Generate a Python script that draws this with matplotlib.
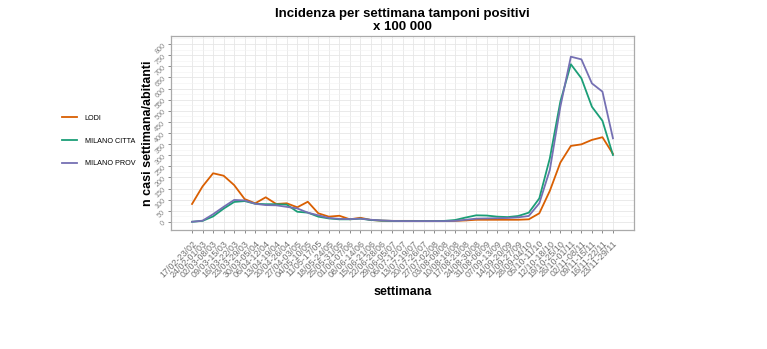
import matplotlib
matplotlib.use("Agg")
import matplotlib.pyplot as plt
import numpy as np

weeks = ["17/02-23/02", "24/02-01/03", "02/03-08/03", "09/03-15/03", "16/03-22/03",
         "23/03-29/03", "30/03-05/04", "06/04-12/04", "13/04-19/04", "20/04-26/04",
         "27/04-03/05", "04/05-10/05", "11/05-17/05", "18/05-24/05", "25/05-31/05",
         "01/06-07/06", "08/06-14/06", "15/06-21/06", "22/06-28/06", "29/06-05/07",
         "06/07-12/07", "13/07-19/07", "20/07-26/07", "27/07-02/08", "03/08-09/08",
         "10/08-16/08", "17/08-23/08", "24/08-30/08", "31/08-06/09", "07/09-13/09",
         "14/09-20/09", "21/09-27/09", "28/09-04/10", "05/10-11/10", "12/10-18/10",
         "19/10-25/10", "26/10-01/11", "02/11-08/11", "09/11-15/11", "16/11-22/11",
         "23/11-29/11"]

lodi = [81, 160, 219, 208, 166, 103, 84, 111, 81, 84,
        66, 91, 39, 24, 28, 12, 19, 9, 6, 5,
        5, 5, 4, 4, 4, 5, 7, 10, 10, 10,
        10, 10, 12, 39, 140, 267, 342, 349, 369, 381,
        306]
milano_citta = [1, 5, 25, 60, 90, 94, 82, 80, 80, 78,
                46, 42, 24, 16, 12, 12, 15, 9, 6, 5,
                4, 4, 4, 4, 5, 9, 20, 30, 29, 24,
                22, 27, 42, 106, 286, 541, 709, 646, 518, 455,
                301]
milano_prov = [1, 6, 35, 68, 99, 97, 82, 76, 75, 68,
               61, 42, 30, 18, 14, 13, 15, 10, 7, 5,
               4, 4, 4, 4, 4, 5, 10, 15, 16, 17,
               18, 21, 27, 84, 234, 518, 743, 731, 623, 586,
               376]

series_names = ["LODI", "MILANO CITTA", "MILANO PROV"]
colors = ["#D95F02", "#1B9E77", "#7570B3"]

plt.rcParams['font.family'] = ['Liberation Sans', 'DejaVu Sans']

fig = plt.figure(figsize=(7.67, 3.49), dpi=100)
ax = fig.add_axes([171/767, 1 - 230/349, (634 - 171)/767, (230 - 36)/349])

x = np.arange(len(weeks))
for name, vals, c in zip(series_names, [lodi, milano_citta, milano_prov], colors):
    ax.plot(x, vals, color=c, lw=1.3, label=name, solid_joinstyle='round')

ax.set_xlim(-2, len(weeks) + 1)
ax.set_ylim(-36, 836)

ax.set_xticks(x)
ax.set_xticklabels(weeks, rotation=45, ha='right', va='top', rotation_mode='anchor',
                   fontsize=6.4, color='#707070')
yt = np.arange(0, 801, 50)
ax.set_yticks(yt)
ax.set_yticklabels([str(v) for v in yt], rotation=45, ha='right', va='center',
                   rotation_mode='anchor', fontsize=5.2, color='#888888')
ax.set_yticks(np.arange(25, 826, 50), minor=True)

ax.grid(True, which='major', color='#E6E6E6', lw=0.6)
ax.grid(True, which='minor', axis='y', color='#F2F2F2', lw=0.4)
ax.tick_params(which='minor', length=0)
ax.tick_params(axis='x', which='major', length=2.5, width=0.6, color='#777777', pad=4)
ax.tick_params(axis='y', which='major', length=2.5, width=0.6, color='#777777', pad=2)
ax.set_axisbelow(True)
for s in ax.spines.values():
    s.set_color('#AAAAAA')
    s.set_linewidth(0.9)

ax.set_title("Incidenza per settimana tamponi positivi\nx 100 000", fontsize=9.5,
             fontweight='bold', linespacing=1.2, pad=4)
ax.set_ylabel("n casi settimana/abitanti", fontsize=9, fontweight='bold', labelpad=0)
ax.set_xlabel("settimana", fontsize=9, fontweight='bold', labelpad=5)

handles, labels = ax.get_legend_handles_labels()
fig.legend(handles, labels, loc='center left', bbox_to_anchor=(55/767, 1 - 141/349),
           frameon=False, fontsize=5.2, handlelength=2.2, labelspacing=2.2,
           handletextpad=1.0)

fig.savefig("out.png", dpi=100)
